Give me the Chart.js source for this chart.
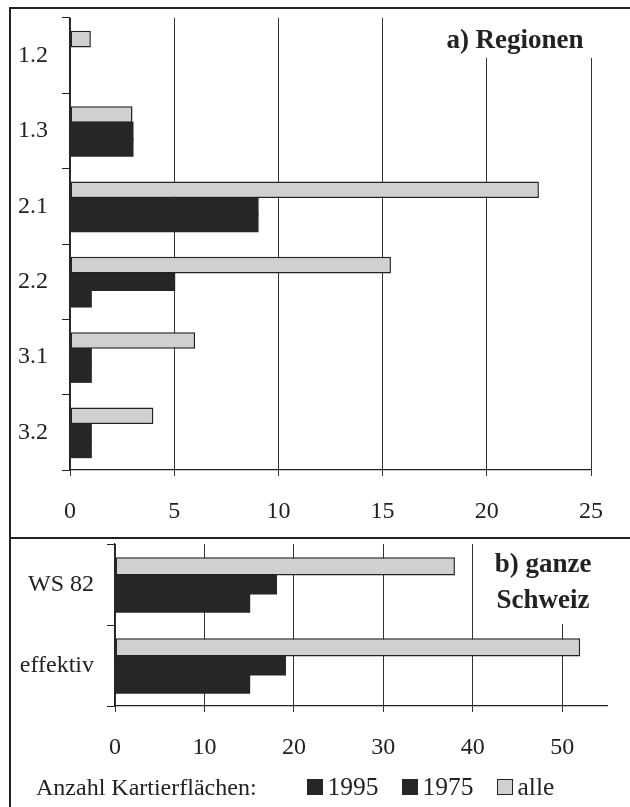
<!DOCTYPE html>
<html lang="de">
<head>
  <meta charset="UTF-8"/>
  <title>Anzahl Kartierflächen</title>
  <script src="https://cdn.jsdelivr.net/npm/chart.js"></script>
  <style>
    body { margin: 0; background: #fff; font-family: "Liberation Serif", serif; color: #222; }
    #page { position: relative; width: 630px; height: 807px; overflow: hidden; }
    .frame { position: absolute; background: #222; }
    canvas { position: absolute; left: 0; }
    #legend {
      position: absolute; left: 36px; top: 772px;
      font-size: 24px; white-space: nowrap; display: flex; align-items: center;
    }
    #legend .item { display: flex; align-items: center; margin-right: 23px; font-size: 25.5px; }
    #legend .box { width: 16px; height: 16px; box-sizing: border-box; margin-right: 5px; }
  </style>
</head>
<body>
<div id="page">
  <canvas id="chartA" width="630" height="537" style="top:0"></canvas>
  <canvas id="chartB" width="630" height="270" style="top:537px"></canvas>
  <div class="frame" style="left:9px; top:7px; width:621px; height:1.5px;"></div>
  <div class="frame" style="left:9px; top:7px; width:1.5px; height:800px;"></div>
  <div class="frame" style="left:9px; top:537px; width:621px; height:1.5px;"></div>
  <div id="legend"><span style="margin-right:50px">Anzahl Kartierflächen:</span></div>
</div>
<script>
  // a) Regionen
  const regions = ["1.2", "1.3", "2.1", "2.2", "3.1", "3.2"];
  const regAlle = [1, 3, 22.5, 15.4, 6, 4];
  const reg1975 = [0, 3, 9, 5, 1, 1];
  const reg1995 = [0, 3, 9, 1, 1, 1];

  // b) ganze Schweiz
  const swiss = ["WS 82", "effektiv"];
  const chAlle = [38, 52];
  const ch1975 = [18, 19];
  const ch1995 = [15, 15];

  const DARK = "#262626";
  const LIGHT = "#d0d0d0";
  const INK = "#222";
  const FONT = "Liberation Serif";

  function datasets(alle, y75, y95) {
    return [
      { label: "alle", data: alle, backgroundColor: LIGHT, borderColor: INK, borderWidth: 1.5, borderSkipped: false },
      { label: "1975", data: y75, backgroundColor: DARK, borderWidth: 0, inflateAmount: 1 },
      { label: "1995", data: y95, backgroundColor: DARK, borderWidth: 0, inflateAmount: 1 }
    ];
  }

  // white box with bold panel title, drawn over the grid
  const panelTitle = {
    id: "panelTitle",
    afterDraw(chart, args, o) {
      const c = chart.ctx;
      c.save();
      c.fillStyle = "#fff";
      c.fillRect(o.box[0], o.box[1], o.box[2], o.box[3]);
      c.fillStyle = INK;
      c.font = "bold 27px " + FONT;
      c.textAlign = "center";
      c.textBaseline = "alphabetic";
      o.lines.forEach((t, i) => c.fillText(t, o.x, o.y + i * 36));
      c.restore();
    }
  };

  function makeChart(id, cats, sets, cfg) {
    return new Chart(document.getElementById(id), {
      type: "bar",
      data: { labels: cats, datasets: sets },
      plugins: [panelTitle],
      options: {
        indexAxis: "y",
        responsive: false,
        animation: false,
        devicePixelRatio: 1,
        datasets: { bar: { categoryPercentage: cfg.catPct, barPercentage: 1 } },
        layout: { padding: { left: 0, top: cfg.top, right: cfg.right, bottom: 0 } },
        plugins: {
          legend: { display: false },
          tooltip: { enabled: false },
          panelTitle: cfg.title
        },
        scales: {
          x: {
            min: 0, max: cfg.max,
            afterFit: s => { s.height = cfg.xHeight; s.paddingLeft = 0; s.paddingRight = 0; },
            border: { display: true, color: INK, width: 1.2 },
            grid: {
              color: ctx => (ctx.tick && cfg.hide.includes(ctx.tick.value)) ? "rgba(0,0,0,0)" : "#333",
              lineWidth: 1, drawTicks: true, tickLength: 6
            },
            ticks: {
              stepSize: cfg.step, padding: 21, color: INK,
              font: { family: FONT, size: 24 },
              callback: v => cfg.hide.includes(v) ? "" : v
            }
          },
          y: {
            afterFit: s => { s.width = cfg.yWidth; s.paddingTop = 0; s.paddingBottom = 0; },
            border: { display: true, color: INK, width: 1.2 },
            grid: { drawOnChartArea: false, drawTicks: true, tickLength: 8, color: INK, offset: true },
            ticks: { padding: cfg.yPad, color: INK, font: { family: FONT, size: 24 } }
          }
        }
      }
    });
  }

  makeChart("chartA", regions, datasets(regAlle, reg1975, reg1995), {
    catPct: 0.66, top: 18, right: 39, max: 25, step: 5, hide: [],
    xHeight: 67, yWidth: 70, yPad: 14,
    title: { lines: ["a) Regionen"], x: 515, y: 48, box: [438, 18, 160, 40] }
  });

  const chartB = makeChart("chartB", swiss, datasets(chAlle, ch1975, ch1995), {
    catPct: 0.67, top: 7, right: 23, max: 55, step: 10, hide: [55],
    xHeight: 101, yWidth: 115, yPad: 13,
    title: { lines: ["b) ganze", "Schweiz"], x: 543, y: 35, box: [490, 3, 110, 84] }
  });

  // legend in the original order: 1995, 1975, alle
  const legend = document.getElementById("legend");
  chartB.data.datasets.slice().reverse().forEach(ds => {
    const item = document.createElement("span");
    item.className = "item";
    const box = document.createElement("span");
    box.className = "box";
    box.style.background = ds.backgroundColor;
    if (ds.borderWidth) box.style.border = "1px solid " + INK;
    item.appendChild(box);
    item.appendChild(document.createTextNode(ds.label));
    legend.appendChild(item);
  });
</script>
</body>
</html>
